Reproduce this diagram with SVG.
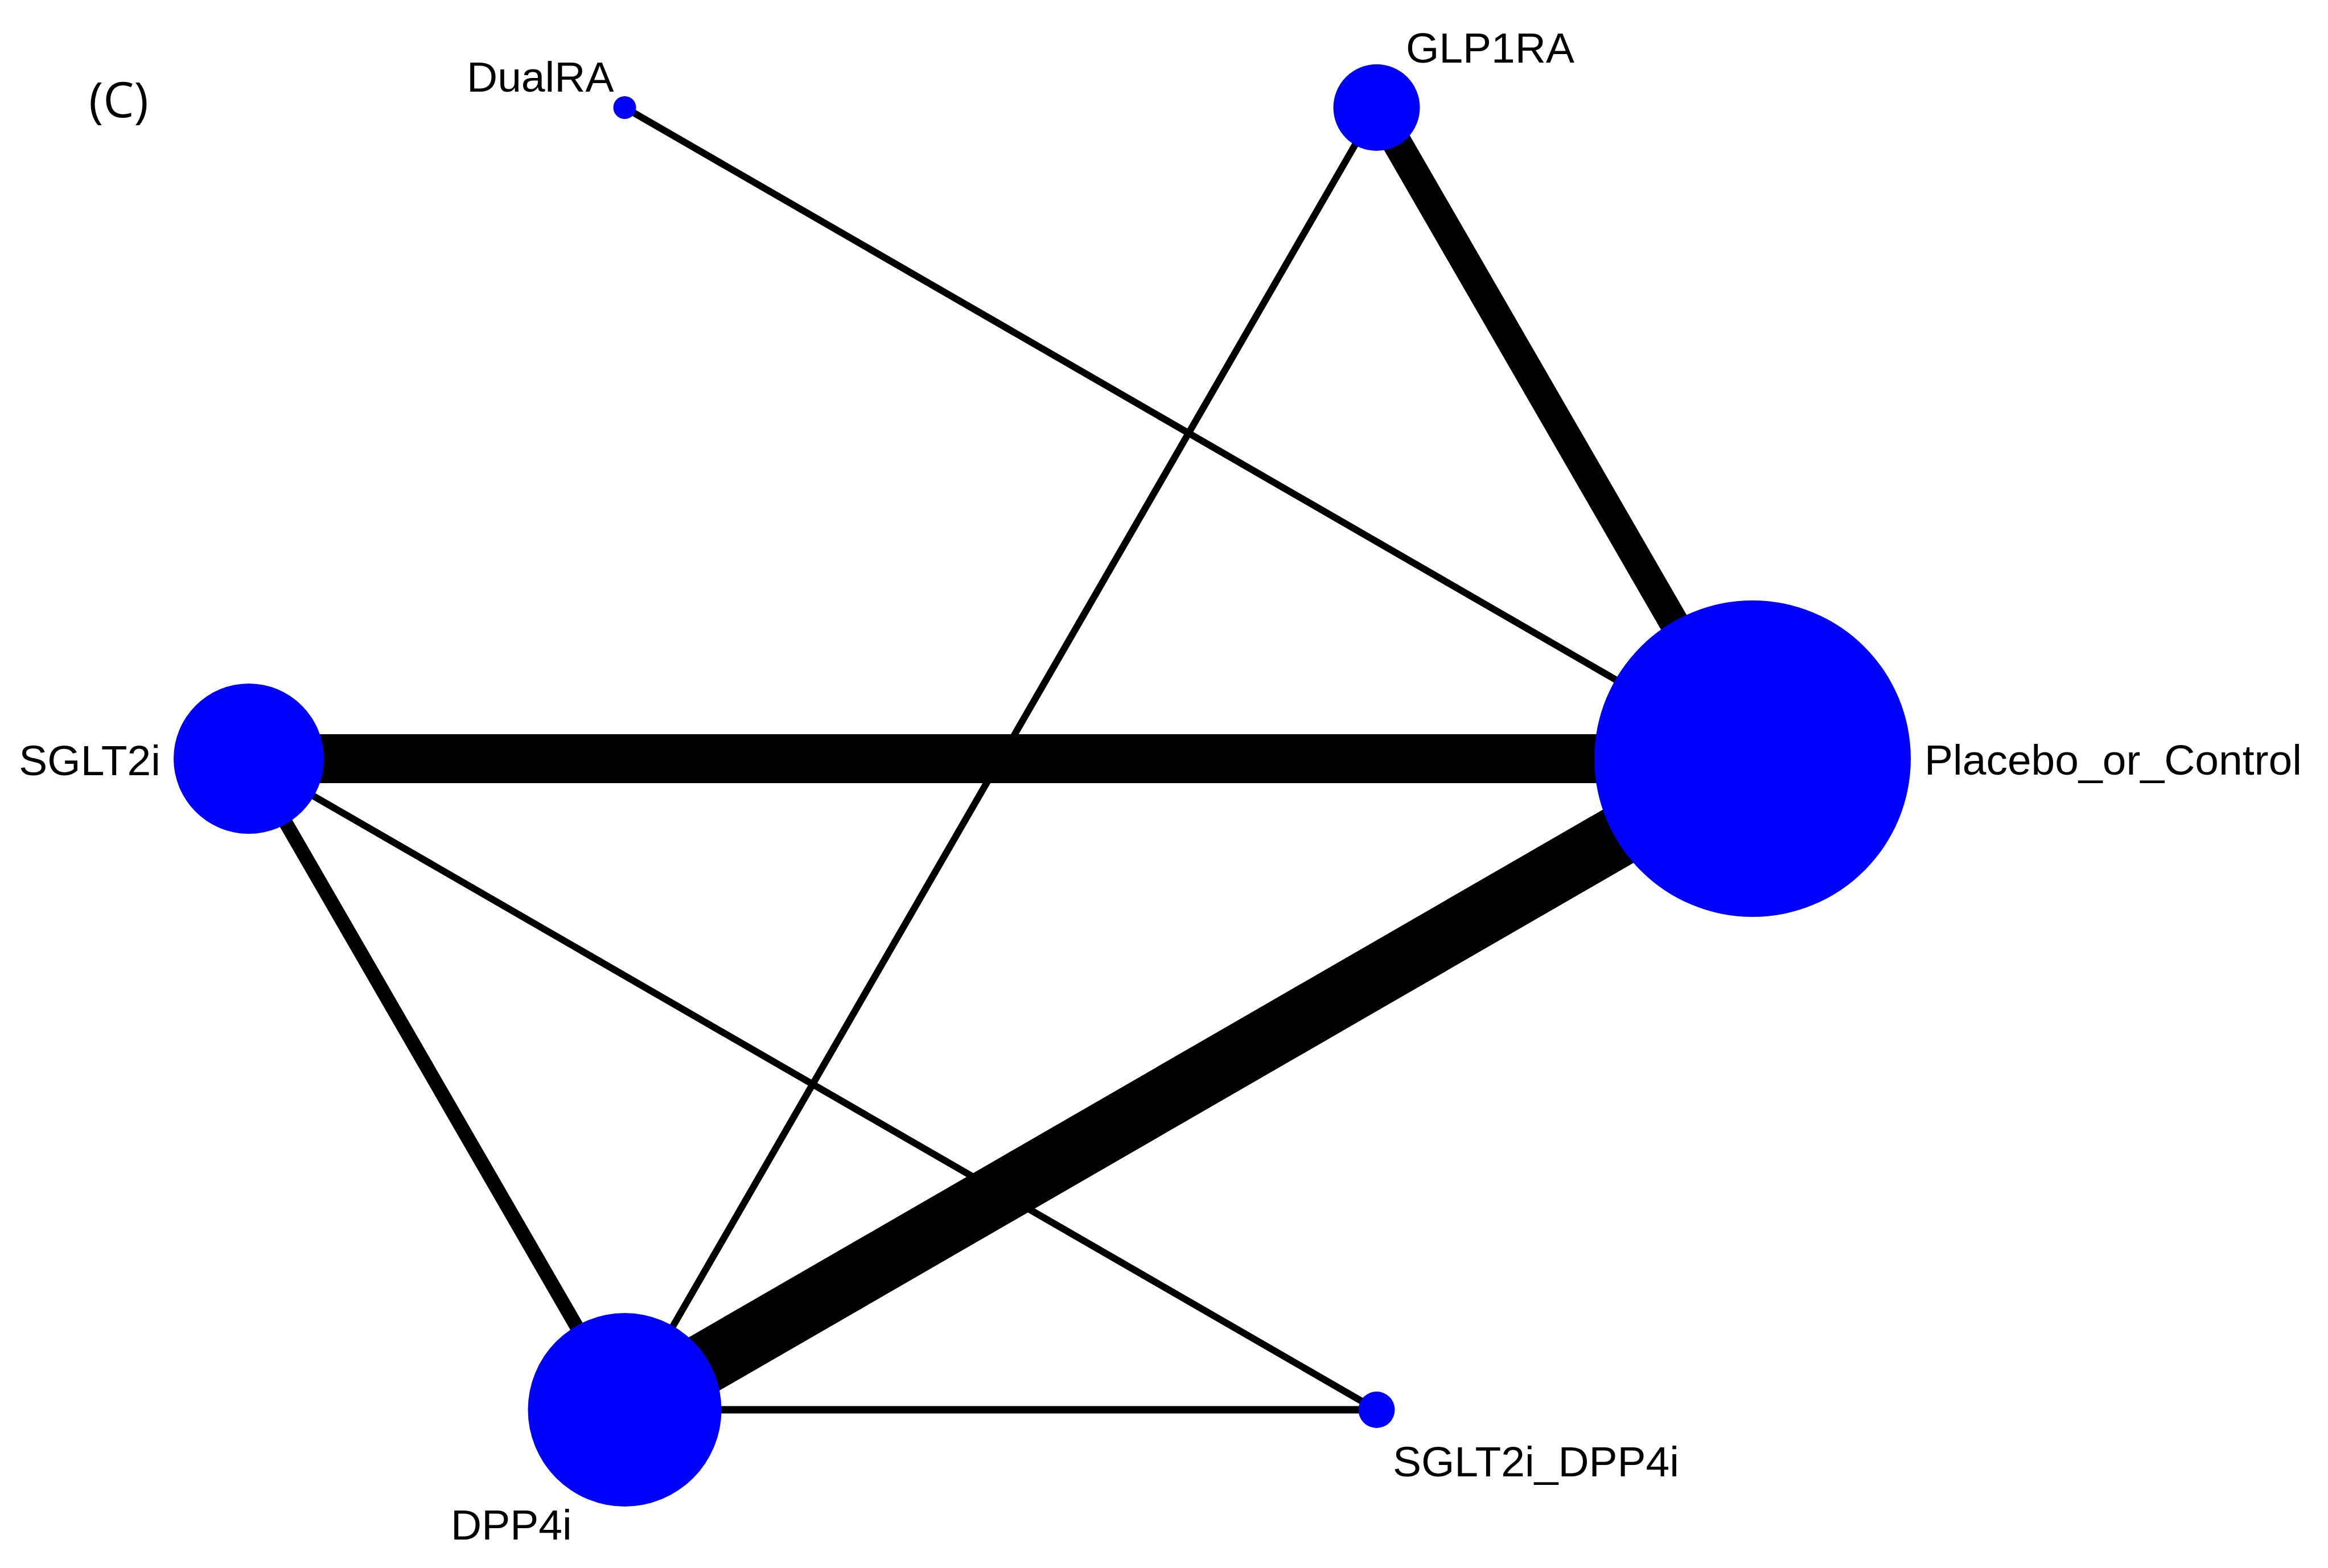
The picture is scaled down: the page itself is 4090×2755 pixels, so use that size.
<svg xmlns="http://www.w3.org/2000/svg" width="4090" height="2755" viewBox="0 0 4090 2755">
<style>
  .edge { stroke: #000; stroke-linecap: butt; fill: none; }
  .node { fill: #0000ff; }
  .lbl { font-family: "Liberation Sans", Arial, sans-serif; font-size: 75px; fill: #000; }
  .panel { font-family: "Open Sans", "Liberation Sans", sans-serif; font-size: 86px; fill: #000; }
</style>
<rect x="0" y="0" width="4090" height="2755" fill="#fff"/>
<text class="panel" x="156" y="206">(C)</text>
<g id="connectors">
  <line class="edge" x1="1097.5" y1="189" x2="3079" y2="1333" stroke-width="12"/>
  <line class="edge" x1="2418.5" y1="189" x2="3079" y2="1333" stroke-width="52"/>
  <line class="edge" x1="2418.5" y1="189" x2="1097.5" y2="2477" stroke-width="12"/>
  <line class="edge" x1="437" y1="1333" x2="3079" y2="1333" stroke-width="86"/>
  <line class="edge" x1="437" y1="1333" x2="1097.5" y2="2477" stroke-width="25"/>
  <line class="edge" x1="437" y1="1333" x2="2418.5" y2="2477" stroke-width="12"/>
  <line class="edge" x1="1097.5" y1="2477" x2="3079" y2="1333" stroke-width="108"/>
  <line class="edge" x1="1097.5" y1="2477" x2="2418.5" y2="2477" stroke-width="13"/>
</g>
<g id="node-Placebo_or_Control">
  <circle class="node" cx="3079" cy="1333" r="278"/>
  <text class="lbl" x="3381" y="1361">Placebo_or_Control</text>
</g>
<g id="node-GLP1RA">
  <circle class="node" cx="2418.5" cy="189" r="76"/>
  <text class="lbl" x="2470" y="110">GLP1RA</text>
</g>
<g id="node-DualRA">
  <circle class="node" cx="1097.5" cy="189" r="20"/>
  <text class="lbl" x="820" y="161">DualRA</text>
</g>
<g id="node-SGLT2i">
  <circle class="node" cx="437" cy="1333" r="132"/>
  <text class="lbl" x="282" y="1362" text-anchor="end">SGLT2i</text>
</g>
<g id="node-DPP4i">
  <circle class="node" cx="1097.5" cy="2477" r="170"/>
  <text class="lbl" x="792" y="2705">DPP4i</text>
</g>
<g id="node-SGLT2i_DPP4i">
  <circle class="node" cx="2418.5" cy="2477" r="32"/>
  <text class="lbl" x="2447" y="2594">SGLT2i_DPP4i</text>
</g>
</svg>
